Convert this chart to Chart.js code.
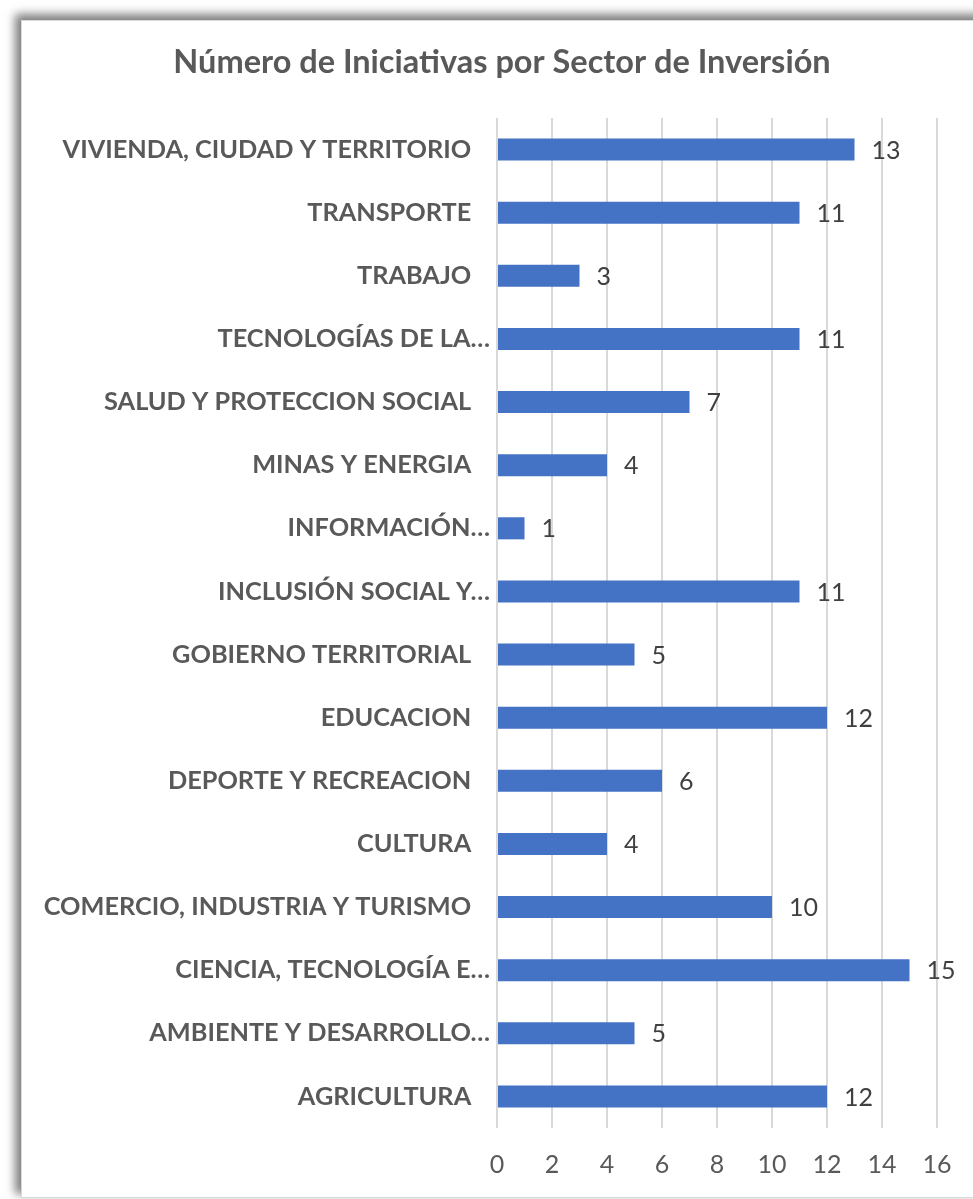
<!DOCTYPE html>
<html>
<head>
<meta charset="utf-8">
<script src="https://cdn.jsdelivr.net/npm/chart.js@4/dist/chart.umd.min.js"></script>
<style>
  html, body { margin: 0; padding: 0; width: 973px; height: 1199px; overflow: hidden; background: #ffffff; }
  #frame { position: absolute; left: 21px; top: 20px; width: 1000px; height: 1176px; background: #ffffff;
           border: 1px solid #d9d9d9; box-shadow: -5px -5px 9px 1px rgba(0,0,0,0.5); }
  #c { position: absolute; left: 0; top: 0; z-index: 2; }
</style>
</head>
<body>
<div id="frame"></div>
<canvas id="c" width="1004" height="1199"></canvas>
<script>
const chartTitle = 'Número de Iniciativas por Sector de Inversión';
const categories = [
  'VIVIENDA, CIUDAD Y TERRITORIO',
  'TRANSPORTE',
  'TRABAJO',
  'TECNOLOGÍAS DE LA…',
  'SALUD Y PROTECCION SOCIAL',
  'MINAS Y ENERGIA',
  'INFORMACIÓN…',
  'INCLUSIÓN SOCIAL Y…',
  'GOBIERNO TERRITORIAL',
  'EDUCACION',
  'DEPORTE Y RECREACION',
  'CULTURA',
  'COMERCIO, INDUSTRIA Y TURISMO',
  'CIENCIA, TECNOLOGÍA E…',
  'AMBIENTE Y DESARROLLO…',
  'AGRICULTURA'
];
const initiatives = [13, 11, 3, 11, 7, 4, 1, 11, 5, 12, 6, 4, 10, 15, 5, 12];
const xTickMin = 0;
const xTickMax = 16;
const xTickStep = 2;

const FONT = 'Lato, "Open Sans", sans-serif';

const valueLabels = {
  id: 'valueLabels',
  afterDatasetsDraw(chart) {
    const ctx = chart.ctx;
    const meta = chart.getDatasetMeta(0);
    ctx.save();
    ctx.font = '25px ' + FONT;
    ctx.fillStyle = '#404040';
    ctx.textAlign = 'left';
    ctx.textBaseline = 'middle';
    meta.data.forEach((bar, i) => {
      ctx.fillText(String(chart.data.datasets[0].data[i]), bar.x + 17, bar.y + 1);
    });
    ctx.restore();
  }
};

new Chart(document.getElementById('c'), {
  type: 'bar',
  data: {
    labels: categories,
    datasets: [{
      data: initiatives,
      backgroundColor: '#4472C4',
      borderWidth: 0,
      categoryPercentage: 1,
      barPercentage: 0.35
    }]
  },
  options: {
    indexAxis: 'y',
    responsive: false,
    animation: false,
    devicePixelRatio: 1,
    layout: { padding: 0 },
    plugins: {
      legend: { display: false },
      tooltip: { enabled: false },
      title: {
        display: true,
        text: chartTitle,
        color: '#595959',
        font: { family: FONT, size: 32.5, weight: 'bold', lineHeight: 1.2 },
        padding: { top: 43.5, bottom: 35.5 }
      }
    },
    scales: {
      x: {
        min: xTickMin,
        max: xTickMax,
        afterFit(scale) { scale.height = 71; },
        ticks: {
          stepSize: xTickStep,
          color: '#595959',
          font: { family: FONT, size: 25 },
          padding: 22
        },
        grid: { color: '#d9d9d9', lineWidth: 2, drawTicks: false },
        border: { display: false }
      },
      y: {
        afterFit(scale) { scale.width = 497; },
        ticks: {
          color: '#595959',
          font: { family: FONT, size: 25.3, weight: 'bold' },
          padding: 7,
          autoSkip: false,
          callback(value) {
            const l = this.getLabelForValue(value);
            return l.endsWith('…') ? l : l + '\u2002 ';
          }
        },
        grid: { display: false, drawTicks: false },
        border: { display: false }
      },
      yRight: {
        type: 'category',
        position: 'right',
        afterFit(scale) { scale.width = 67; },
        ticks: { display: false },
        grid: { display: false, drawTicks: false },
        border: { display: false }
      }
    }
  },
  plugins: [valueLabels]
});
</script>
</body>
</html>
